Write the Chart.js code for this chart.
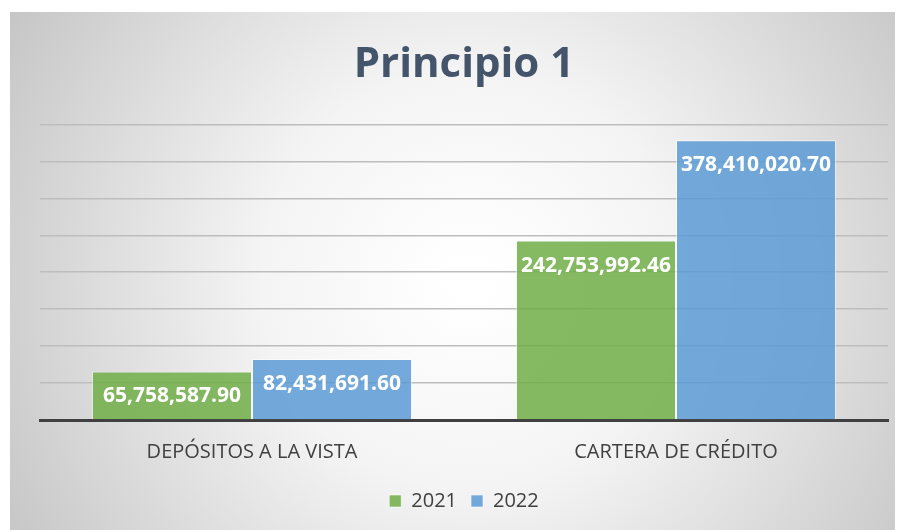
<!DOCTYPE html>
<html>
<head>
<meta charset="utf-8">
<script src="https://cdn.jsdelivr.net/npm/chart.js@4/dist/chart.umd.min.js"></script>
<style>
  html, body { margin:0; padding:0; background:#fff; }
  #wrap { width:905px; height:530px; position:relative; }
</style>
</head>
<body>
<div id="wrap"><canvas id="myChart" width="905" height="530"></canvas></div>
<script>
const categories = ['DEPÓSITOS A LA VISTA', 'CARTERA DE CRÉDITO'];
const series2021 = [65758587.90, 242753992.46];
const series2022 = [82431691.60, 378410020.70];
const seriesNames = ['2021', '2022'];
const yMax = 400000000;
const yStep = 50000000;

const fmt = v => v.toLocaleString('en-US', {minimumFractionDigits:2, maximumFractionDigits:2});

// fondo gris con degradado radial
const bgPlugin = {
  id: 'bg',
  beforeDraw(chart) {
    const c = chart.ctx;
    const x0 = 10, y0 = 12, x1 = 895, y1 = 530;
    const g = c.createRadialGradient(470, 280, 20, 470, 280, 560);
    g.addColorStop(0, '#ffffff');
    g.addColorStop(0.35, '#f4f4f4');
    g.addColorStop(1, '#c2c2c2');
    c.save();
    c.fillStyle = g;
    c.fillRect(x0, y0, x1 - x0, y1 - y0);
    c.restore();
  }
};

// etiquetas de valor dentro de la barra
const labelPlugin = {
  id: 'barLabels',
  afterDatasetsDraw(chart) {
    const c = chart.ctx;
    c.save();
    c.font = 'bold 21px "Open Sans"';
    c.fillStyle = '#ffffff';
    c.textAlign = 'center';
    c.textBaseline = 'middle';
    chart.data.datasets.forEach((ds, i) => {
      chart.getDatasetMeta(i).data.forEach((bar, j) => {
        c.fillText(fmt(ds.data[j]), bar.x, bar.y + 25);
      });
    });
    c.restore();
  }
};

const ctx = document.getElementById('myChart').getContext('2d');
const myChart = new Chart(ctx, {
  type: 'bar',
  data: {
    labels: categories,
    datasets: [{
      label: seriesNames[0],
      data: series2021,
      backgroundColor: 'rgba(112, 173, 71, 0.85)',
      borderColor: 'rgba(255, 255, 255, 0.6)',
      borderWidth: 1
    }, {
      label: seriesNames[1],
      data: series2022,
      backgroundColor: 'rgba(91, 155, 213, 0.85)',
      borderColor: 'rgba(255, 255, 255, 0.6)',
      borderWidth: 1
    }]
  },
  options: {
    responsive: false,
    animation: false,
    categoryPercentage: 0.755,
    barPercentage: 1,
    layout: { padding: { left: 40, right: 17, top: 0, bottom: 9 } },
    scales: {
      x: {
        grid: { display: false },
        border: { color: '#404040', width: 3 },
        ticks: { color: '#404040', font: { family: 'Open Sans', size: 20 }, padding: 12 },
        afterFit: scale => { scale.height = 57; }
      },
      y: {
        min: 0,
        max: yMax,
        ticks: { display: false, stepSize: yStep },
        border: { display: false },
        grid: { color: '#bdbdbd', lineWidth: 1.5, drawTicks: false }
      }
    },
    plugins: {
      title: {
        display: true,
        text: 'Principio 1',
        color: '#44546a',
        font: { family: 'Open Sans', size: 42, weight: 'bold' },
        padding: { top: 40, bottom: 34 }
      },
      legend: {
        position: 'bottom',
        labels: {
          color: '#404040',
          font: { family: 'Open Sans', size: 20 },
          boxWidth: 12,
          boxHeight: 12,
          padding: 14
        }
      },
      tooltip: { enabled: false }
    }
  },
  plugins: [bgPlugin, labelPlugin]
});
</script>
</body>
</html>
